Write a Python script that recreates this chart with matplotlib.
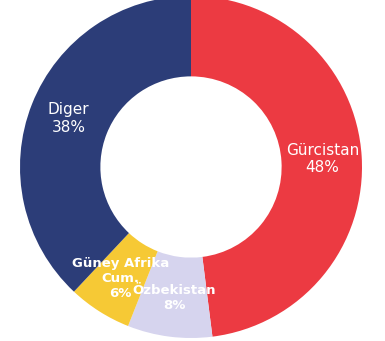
import matplotlib
matplotlib.use("Agg")
import matplotlib.pyplot as plt
import numpy as np

# dilim verileri (saat yönünde, tepeden başlayarak)
names = ['Gürcistan', 'Özbekistan', 'Güney Afrika\nCum.', 'Diger']
shares = [48, 8, 6, 38]
colors = ['#EC3A42', '#D6D4EE', '#F6C935', '#2C3D78']
bold = [False, True, True, False]

plt.rcParams['font.family'] = ['DejaVu Sans']

fig = plt.figure(figsize=(3.85, 3.41), dpi=100)
ax = fig.add_axes([0, 0, 1, 1])

wedges, _ = ax.pie(shares, colors=colors, startangle=90, counterclock=False,
                   radius=1.0, wedgeprops=dict(width=0.47, linewidth=0))

for w, name, val, b in zip(wedges, names, shares, bold):
    ang = np.deg2rad((w.theta1 + w.theta2) / 2)
    x, y = 0.77 * np.cos(ang), 0.77 * np.sin(ang)
    ax.text(x, y, f'{name}\n{val}%', ha='center', va='center', color='white',
            fontsize=9.5 if b else 11,
            fontweight='bold' if b else 'normal')

ax.set_xlim(-191 / 171, 194 / 171)
ax.set_ylim(-174 / 171, 167 / 171)
ax.set_aspect('equal')
ax.axis('off')

fig.savefig('out.png', dpi=100)
